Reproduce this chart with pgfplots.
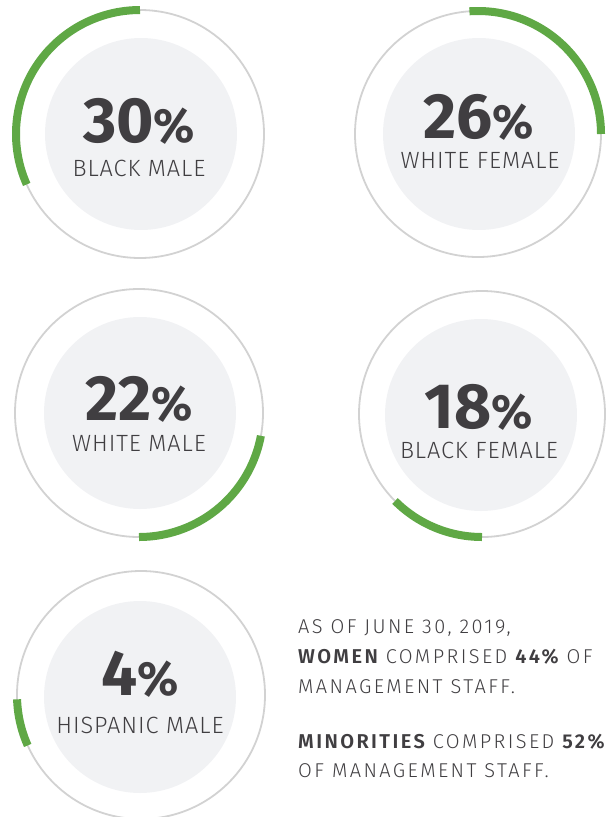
\documentclass[border=0pt]{standalone}
\usepackage{pgfplots}
\pgfplotsset{compat=1.18}
\usepackage{fontspec}
\setmainfont{Fira Sans}
\newfontfamily\lightfont{Fira Sans Light}[LetterSpace=4]
\newfontfamily\blockfont{Fira Sans Light}[LetterSpace=12]
\definecolor{arcgreen}{HTML}{5FA845}
\definecolor{ringgray}{HTML}{D2D2D2}
\definecolor{discgray}{HTML}{F1F2F4}
\definecolor{txt}{HTML}{403E41}
% arcs: center x, center y (pixels, y downward), radius, start angle, end angle (deg)
\pgfplotstableread{
label cx cy r value a0 a1
BM 140 134 124 30 90 204
WF 478 134 123 26 94 0
WM 139 413 124 22 -10.6 -90
BF 482 414 123 18 -90 -135
HM 141 695 124 4 182 204
}\arcs
\begin{document}
\begin{tikzpicture}
\useasboundingbox (0,0) rectangle (610pt,817pt);
\clip (0,0) rectangle (610pt,817pt);
\begin{axis}[
  at={(0,0)}, anchor=south west,
  width=610pt, height=817pt, scale only axis,
  xmin=0, xmax=610, ymin=0, ymax=817, y dir=reverse,
  hide axis, clip=false,
]
% rings and discs
\draw[ringgray, line width=1.8pt] (axis cs:140,134) circle[radius=124];
\fill[discgray] (axis cs:141,134) circle[radius=96];
\draw[ringgray, line width=1.8pt] (axis cs:478,134) circle[radius=123];
\fill[discgray] (axis cs:479,134) circle[radius=96];
\draw[ringgray, line width=1.8pt] (axis cs:139,413) circle[radius=124];
\fill[discgray] (axis cs:140,413) circle[radius=96];
\draw[ringgray, line width=1.8pt] (axis cs:482,414) circle[radius=123];
\fill[discgray] (axis cs:481,415) circle[radius=96];
\draw[ringgray, line width=1.8pt] (axis cs:141,695) circle[radius=124];
\fill[discgray] (axis cs:140,697) circle[radius=96];
% green arcs
\addplot[arcgreen, line width=8pt, domain=90:204, samples=80] ({140+124*cos(x)},{134-124*sin(x)});
\addplot[arcgreen, line width=8pt, domain=0:94, samples=80] ({478+123*cos(x)},{134-123*sin(x)});
\addplot[arcgreen, line width=8pt, domain=-90:-10.6, samples=80] ({139+124*cos(x)},{413-124*sin(x)});
\addplot[arcgreen, line width=8pt, domain=-135:-90, samples=60] ({482+123*cos(x)},{414-123*sin(x)});
\addplot[arcgreen, line width=8pt, domain=182:204, samples=40] ({141+124*cos(x)},{695-124*sin(x)});
% numbers
\tikzset{num/.style={anchor=base, inner sep=0pt, text=txt, font=\fontsize{64}{64}\selectfont\bfseries},
         lab/.style={anchor=base, inner sep=0pt, text=txt, font=\fontsize{23.5}{24}\lightfont}}
\node[num] at (axis cs:139,142) {30{\fontsize{48}{48}\selectfont\%}};
\node[lab] at (axis cs:139,176) {BLACK MALE};
\node[num] at (axis cs:479,138) {26{\fontsize{48}{48}\selectfont\%}};
\node[lab] at (axis cs:480,168) {WHITE FEMALE};
\node[num] at (axis cs:139,420) {22{\fontsize{48}{48}\selectfont\%}};
\node[lab] at (axis cs:139,451) {WHITE MALE};
\node[num] at (axis cs:479,428) {18{\fontsize{48}{48}\selectfont\%}};
\node[lab] at (axis cs:479,458) {BLACK FEMALE};
\node[num] at (axis cs:140,695) {4{\fontsize{48}{48}\selectfont\%}};
\node[lab] at (axis cs:140,733) {HISPANIC MALE};
% text block
\tikzset{blk/.style={anchor=base west, inner sep=0pt, text=txt, font=\fontsize{20}{20}\blockfont}}
\node[blk] at (axis cs:298,633) {AS OF JUNE 30, 2019,};
\node[blk] at (axis cs:298,663) {{\bfseries WOMEN} COMPRISED {\bfseries 44\%} OF};
\node[blk] at (axis cs:298,693) {MANAGEMENT STAFF.};
\node[blk] at (axis cs:298,748) {{\bfseries MINORITIES} COMPRISED {\bfseries 52\%}};
\node[blk] at (axis cs:298,777) {OF MANAGEMENT STAFF.};
\end{axis}
\end{tikzpicture}
\end{document}
